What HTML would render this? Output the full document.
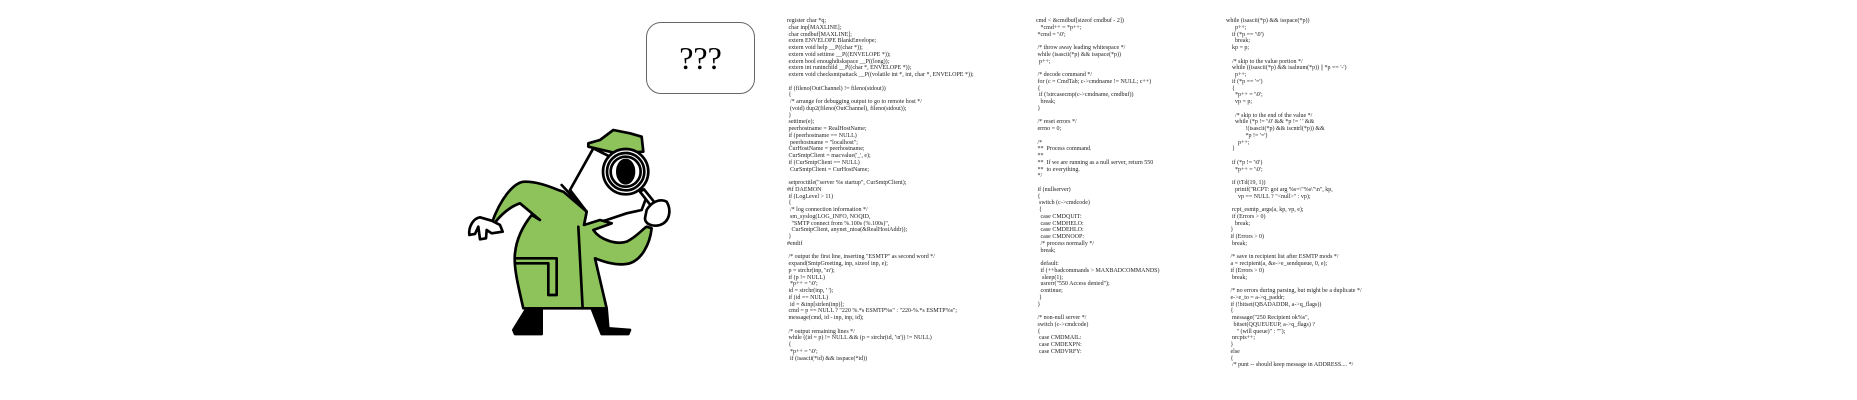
<!DOCTYPE html>
<html><head><meta charset="utf-8"><style>
html,body{margin:0;padding:0;background:#fff;width:1857px;height:400px;overflow:hidden;position:relative}
.c{position:absolute;top:18px;font-family:"Liberation Serif",serif;font-size:6px;line-height:6.75px;white-space:pre;color:#222;margin:0}
.b{position:absolute;left:646px;top:22px;width:107px;height:70px;border:1px solid #666;border-radius:15px;text-align:center;font-family:"Liberation Serif",serif;font-size:32px;line-height:70px;color:#000}
</style></head><body>
<div class="b">???</div>
<svg width="1857" height="400" style="position:absolute;left:0;top:0">
<g transform="translate(460,130) scale(0.3333)" stroke="#000" stroke-width="8" stroke-linejoin="round" stroke-linecap="round">
<path d="M160,600 L200,535 L245,535 L245,612 L165,612 Z" fill="#000"/>
<path d="M395,535 L440,535 L445,595 L510,600 L505,612 L425,612 Z" fill="#000"/>
<path d="M330,180 L400,55 L470,90 L560,200 L545,240 L500,250 L440,270 L372,285 L380,245 Z" fill="#fff"/>
<path d="M95,280 C120,210 160,155 195,155 C245,155 290,180 310,185 L380,245 L372,285 L420,270 L455,280 L400,300 C420,330 470,345 500,335 C530,320 545,300 560,290 L575,295 C570,340 545,395 500,402 C460,408 420,390 405,385 L440,535 L190,535 C175,470 160,410 165,370 C170,320 195,280 215,255 L240,270 L180,220 C150,230 120,255 100,285 Z" fill="#8dc35a"/>
<path d="M165,385 L290,385 L290,495 L265,495 L265,400 L165,400" fill="none"/>
<path d="M355,290 L368,535" fill="none"/>
<path d="M305,165 L380,245" fill="none"/>
<path d="M95,272 L60,262 C40,265 25,290 28,315 L45,312 L55,290 L60,328 L78,325 L80,300 L95,310 L128,305 L120,285 Z" fill="#fff"/>
<path d="M385,40 L420,30 L460,0 L510,10 L545,20 L550,65 L470,70 L385,50 Z" fill="#8dc35a"/>
<circle cx="497" cy="125" r="68" fill="#fff"/>
<circle cx="497" cy="125" r="56" fill="none"/>
<circle cx="497" cy="125" r="45" fill="#fff"/>
<ellipse cx="497" cy="125" rx="25" ry="35" fill="#000"/>
<path d="M540,185 L600,262 L612,252 L552,178 Z" fill="#fff"/>
<path d="M560,240 C575,215 600,205 620,215 C635,240 630,275 600,285 C575,292 555,280 555,265 Z" fill="#fff"/>
</g>
</svg>
<pre class="c" style="left:787px">register char *q;
 char inp[MAXLINE];
 char cmdbuf[MAXLINE];
 extern ENVELOPE BlankEnvelope;
 extern void help __P((char *));
 extern void settime __P((ENVELOPE *));
 extern bool enoughdiskspace __P((long));
 extern int runinchild __P((char *, ENVELOPE *));
 extern void checksmtpattack __P((volatile int *, int, char *, ENVELOPE *));

 if (fileno(OutChannel) != fileno(stdout))
 {
  /* arrange for debugging output to go to remote host */
  (void) dup2(fileno(OutChannel), fileno(stdout));
 }
 settime(e);
 peerhostname = RealHostName;
 if (peerhostname == NULL)
  peerhostname = "localhost";
 CurHostName = peerhostname;
 CurSmtpClient = macvalue('_', e);
 if (CurSmtpClient == NULL)
  CurSmtpClient = CurHostName;

 setproctitle("server %s startup", CurSmtpClient);
#if DAEMON
 if (LogLevel &gt; 11)
 {
  /* log connection information */
  sm_syslog(LOG_INFO, NOQID,
   "SMTP connect from %.100s (%.100s)",
   CurSmtpClient, anynet_ntoa(&amp;RealHostAddr));
 }
#endif

 /* output the first line, inserting "ESMTP" as second word */
 expand(SmtpGreeting, inp, sizeof inp, e);
 p = strchr(inp, '\n');
 if (p != NULL)
  *p++ = '\0';
 id = strchr(inp, ' ');
 if (id == NULL)
  id = &amp;inp[strlen(inp)];
 cmd = p == NULL ? "220 %.*s ESMTP%s" : "220-%.*s ESMTP%s";
 message(cmd, id - inp, inp, id);

 /* output remaining lines */
 while ((id = p) != NULL &amp;&amp; (p = strchr(id, '\n')) != NULL)
 {
  *p++ = '\0';
  if (isascii(*id) &amp;&amp; isspace(*id))</pre>
<pre class="c" style="left:1036px">cmd &lt; &amp;cmdbuf[sizeof cmdbuf - 2])
   *cmd++ = *p++;
 *cmd = '\0';

 /* throw away leading whitespace */
 while (isascii(*p) &amp;&amp; isspace(*p))
  p++;

 /* decode command */
 for (c = CmdTab; c-&gt;cmdname != NULL; c++)
 {
  if (!strcasecmp(c-&gt;cmdname, cmdbuf))
   break;
 }

 /* reset errors */
 errno = 0;

 /*
 **  Process command.
 **
 **  If we are running as a null server, return 550
 **  to everything.
 */

 if (nullserver)
 {
  switch (c-&gt;cmdcode)
  {
   case CMDQUIT:
   case CMDHELO:
   case CMDEHLO:
   case CMDNOOP:
   /* process normally */
   break;

   default:
   if (++badcommands &gt; MAXBADCOMMANDS)
    sleep(1);
   usrerr("550 Access denied");
   continue;
  }
 }

 /* non-null server */
 switch (c-&gt;cmdcode)
 {
  case CMDMAIL:
  case CMDEXPN:
  case CMDVRFY:</pre>
<pre class="c" style="left:1226px">while (isascii(*p) &amp;&amp; isspace(*p))
      p++;
    if (*p == '\0')
      break;
    kp = p;

    /* skip to the value portion */
    while ((isascii(*p) &amp;&amp; isalnum(*p)) || *p == '-')
      p++;
    if (*p == '=')
    {
      *p++ = '\0';
      vp = p;

      /* skip to the end of the value */
      while (*p != '\0' &amp;&amp; *p != ' ' &amp;&amp;
             !(isascii(*p) &amp;&amp; iscntrl(*p)) &amp;&amp;
             *p != '=')
        p++;
    }

    if (*p != '\0')
      *p++ = '\0';

    if (tTd(19, 1))
      printf("RCPT: got arg %s=\"%s\"\n", kp,
        vp == NULL ? "&lt;null&gt;" : vp);

    rcpt_esmtp_args(a, kp, vp, e);
    if (Errors &gt; 0)
      break;
   }
   if (Errors &gt; 0)
    break;

   /* save in recipient list after ESMTP mods */
   a = recipient(a, &amp;e-&gt;e_sendqueue, 0, e);
   if (Errors &gt; 0)
    break;

   /* no errors during parsing, but might be a duplicate */
   e-&gt;e_to = a-&gt;q_paddr;
   if (!bitset(QBADADDR, a-&gt;q_flags))
   {
    message("250 Recipient ok%s",
     bitset(QQUEUEUP, a-&gt;q_flags) ?
       " (will queue)" : "");
    nrcpts++;
   }
   else
   {
    /* punt -- should keep message in ADDRESS.... */</pre>
</body></html>
